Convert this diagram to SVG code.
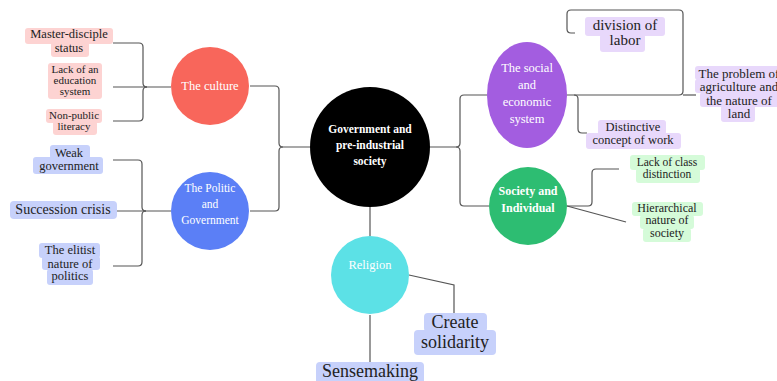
<svg xmlns="http://www.w3.org/2000/svg" width="777" height="381" viewBox="0 0 777 381">
<style>
.t{font-family:"Liberation Serif","Times New Roman",serif;fill:#222;text-anchor:middle}
.w{font-family:"Liberation Serif","Times New Roman",serif;fill:#fff;text-anchor:middle}
.b{font-weight:bold}
.pk{fill:#fdd3d2}
.bl{fill:#c7d1fb}
.pu{fill:#e8d8fb}
.gr{fill:#d5fbd9}
.conn path{fill:none;stroke:#555;stroke-width:1.2}
</style>
<rect width="777" height="381" fill="#fff"/>
<g id="connectors" class="conn">
<path d="M250,86 H275 Q279,86 279,90 V143 Q279,147 283,147 H310"/>
<path d="M250,211 H275 Q279,211 279,207 V151 Q279,147 283,147"/>
<path d="M113,43 H139 Q143,43 143,47 V83 Q143,87 147,87"/>
<path d="M113,121 H139 Q143,121 143,117 V91 Q143,87 147,87"/>
<path d="M113,87 H171"/>
<path d="M113,160 H138 Q142,160 142,164 V207 Q142,211 146,211"/>
<path d="M113,266 H138 Q142,266 142,262 V215 Q142,211 146,211"/>
<path d="M113,211 H171"/>
<path d="M430,147 H456 Q460,147 460,143 V99 Q460,95 464,95 H487"/>
<path d="M456,147 Q460,147 460,151 V202 Q460,206 464,206 H489"/>
<path d="M567,95 H679 Q683,95 683,91 V14 Q683,10 679,10 H571 Q567,10 567,14 V29 Q567,33 571,33 H575"/>
<path d="M683,95 H696"/>
<path d="M574,95 Q578,95 578,99 V129 Q578,133 582,133 H587"/>
<path d="M567,206 H588 Q592,206 592,202 V173 Q592,169 596,169 H619"/>
<path d="M567,206 L626,222"/>
<path d="M370,207 V236"/>
<path d="M370,315 V362"/>
<path d="M409,275 L454,285 V313"/>
</g>
<g id="central">
<circle cx="370" cy="147" r="60" fill="#000"/>
<text class="w b" font-size="11.5" x="370" y="133">Government and</text>
<text class="w b" font-size="11.5" x="370" y="149">pre-industrial</text>
<text class="w b" font-size="11.5" x="370" y="165">society</text>
</g>
<g id="culture">
<circle cx="210" cy="86" r="39" fill="#f8665b"/>
<text class="w" font-size="12.5" x="210" y="90">The culture</text>
</g>
<g id="politic">
<circle cx="210" cy="211" r="39" fill="#5b7ff6"/>
<text class="w" font-size="11.5" x="210" y="192">The Politic</text>
<text class="w" font-size="11.5" x="210" y="208">and</text>
<text class="w" font-size="11.5" x="210" y="224">Government</text>
</g>
<g id="social">
<ellipse cx="527" cy="95" rx="40" ry="53" fill="#a35de0"/>
<text class="w" font-size="12.5" x="527" y="72">The social</text>
<text class="w" font-size="12.5" x="527" y="89">and</text>
<text class="w" font-size="12.5" x="527" y="106">economic</text>
<text class="w" font-size="12.5" x="527" y="123">system</text>
</g>
<g id="society">
<circle cx="528" cy="206" r="39" fill="#2dbd72"/>
<text class="w b" font-size="12" x="528" y="195">Society and</text>
<text class="w b" font-size="12" x="528" y="212">Individual</text>
</g>
<g id="religion">
<circle cx="370" cy="275" r="39" fill="#5ce1e6"/>
<text class="w" font-size="12.5" x="370" y="269">Religion</text>
</g>
<g id="master-disciple">
<rect class="pk" x="25" y="28" width="88" height="16" rx="3"/>
<rect class="pk" x="51" y="42" width="38" height="15" rx="3"/>
<text class="t" font-size="12.5" x="69" y="38">Master-disciple</text>
<text class="t" font-size="12.5" x="69" y="52">status</text>
</g>
<g id="lack-education">
<rect class="pk" x="48" y="63" width="54" height="36" rx="3"/>
<text class="t" font-size="11" x="75" y="73">Lack of an</text>
<text class="t" font-size="11" x="75" y="84">education</text>
<text class="t" font-size="11" x="75" y="95">system</text>
</g>
<g id="non-public">
<rect class="pk" x="46" y="109" width="56" height="14" rx="3"/>
<rect class="pk" x="53" y="121" width="44" height="14" rx="3"/>
<text class="t" font-size="11" x="74" y="118.5">Non-public</text>
<text class="t" font-size="11" x="74" y="130">literacy</text>
</g>
<g id="weak-government">
<rect class="bl" x="50" y="145" width="40" height="14" rx="3"/>
<rect class="bl" x="33" y="157" width="70" height="17" rx="3"/>
<text class="t" font-size="12.5" x="69" y="156.5">Weak</text>
<text class="t" font-size="12.5" x="69" y="169.5">government</text>
</g>
<g id="succession">
<rect class="bl" x="10" y="201" width="107" height="18" rx="4"/>
<text class="t" font-size="14" x="63" y="213.5">Succession crisis</text>
</g>
<g id="elitist">
<rect class="bl" x="39" y="243" width="61" height="15" rx="3"/>
<rect class="bl" x="42" y="256" width="58" height="14" rx="3"/>
<rect class="bl" x="47" y="269" width="46" height="16" rx="3"/>
<text class="t" font-size="12.5" x="70" y="253.5">The elitist</text>
<text class="t" font-size="12.5" x="70" y="267.5">nature of</text>
<text class="t" font-size="12.5" x="70" y="280">politics</text>
</g>
<g id="division">
<rect class="pu" x="585" y="17" width="80" height="19" rx="3"/>
<rect class="pu" x="600" y="34" width="45" height="18" rx="3"/>
<text class="t" font-size="15" x="625" y="29.5">division of</text>
<text class="t" font-size="15" x="625" y="45">labor</text>
</g>
<g id="problem">
<rect class="pu" x="695" y="66" width="90" height="14" rx="3"/>
<rect class="pu" x="695" y="79" width="90" height="14" rx="3"/>
<rect class="pu" x="700" y="92" width="80" height="15" rx="3"/>
<rect class="pu" x="721" y="105" width="34" height="17" rx="3"/>
<text class="t" font-size="13" x="739" y="77.5">The problem of</text>
<text class="t" font-size="13" x="739" y="91">agriculture and</text>
<text class="t" font-size="13" x="739" y="104.5">the nature of</text>
<text class="t" font-size="13" x="739" y="118">land</text>
</g>
<g id="distinctive">
<rect class="pu" x="598" y="120" width="68" height="15" rx="3"/>
<rect class="pu" x="586" y="133" width="95" height="16" rx="3"/>
<text class="t" font-size="12.5" x="633" y="131">Distinctive</text>
<text class="t" font-size="12.5" x="633" y="144">concept of work</text>
</g>
<g id="lack-class">
<rect class="gr" x="630" y="155" width="75" height="15" rx="3"/>
<rect class="gr" x="636" y="168" width="64" height="15" rx="3"/>
<text class="t" font-size="11.5" x="667" y="165.5">Lack of class</text>
<text class="t" font-size="11.5" x="667" y="178">distinction</text>
</g>
<g id="hierarchical">
<rect class="gr" x="632" y="202" width="71" height="14" rx="3"/>
<rect class="gr" x="640" y="215" width="54" height="14" rx="3"/>
<rect class="gr" x="643" y="228" width="48" height="14" rx="3"/>
<text class="t" font-size="12" x="667" y="211.5">Hierarchical</text>
<text class="t" font-size="12" x="667" y="224">nature of</text>
<text class="t" font-size="12" x="667" y="236.5">society</text>
</g>
<g id="solidarity">
<rect class="bl" x="424" y="313" width="63" height="19" rx="4"/>
<rect class="bl" x="414" y="330" width="82" height="25" rx="4"/>
<text class="t" font-size="18" x="455" y="328">Create</text>
<text class="t" font-size="18" x="455" y="348">solidarity</text>
</g>
<g id="sensemaking">
<rect class="bl" x="316" y="362" width="108" height="24" rx="4"/>
<text class="t" font-size="18" x="370" y="377">Sensemaking</text>
</g>
</svg>
